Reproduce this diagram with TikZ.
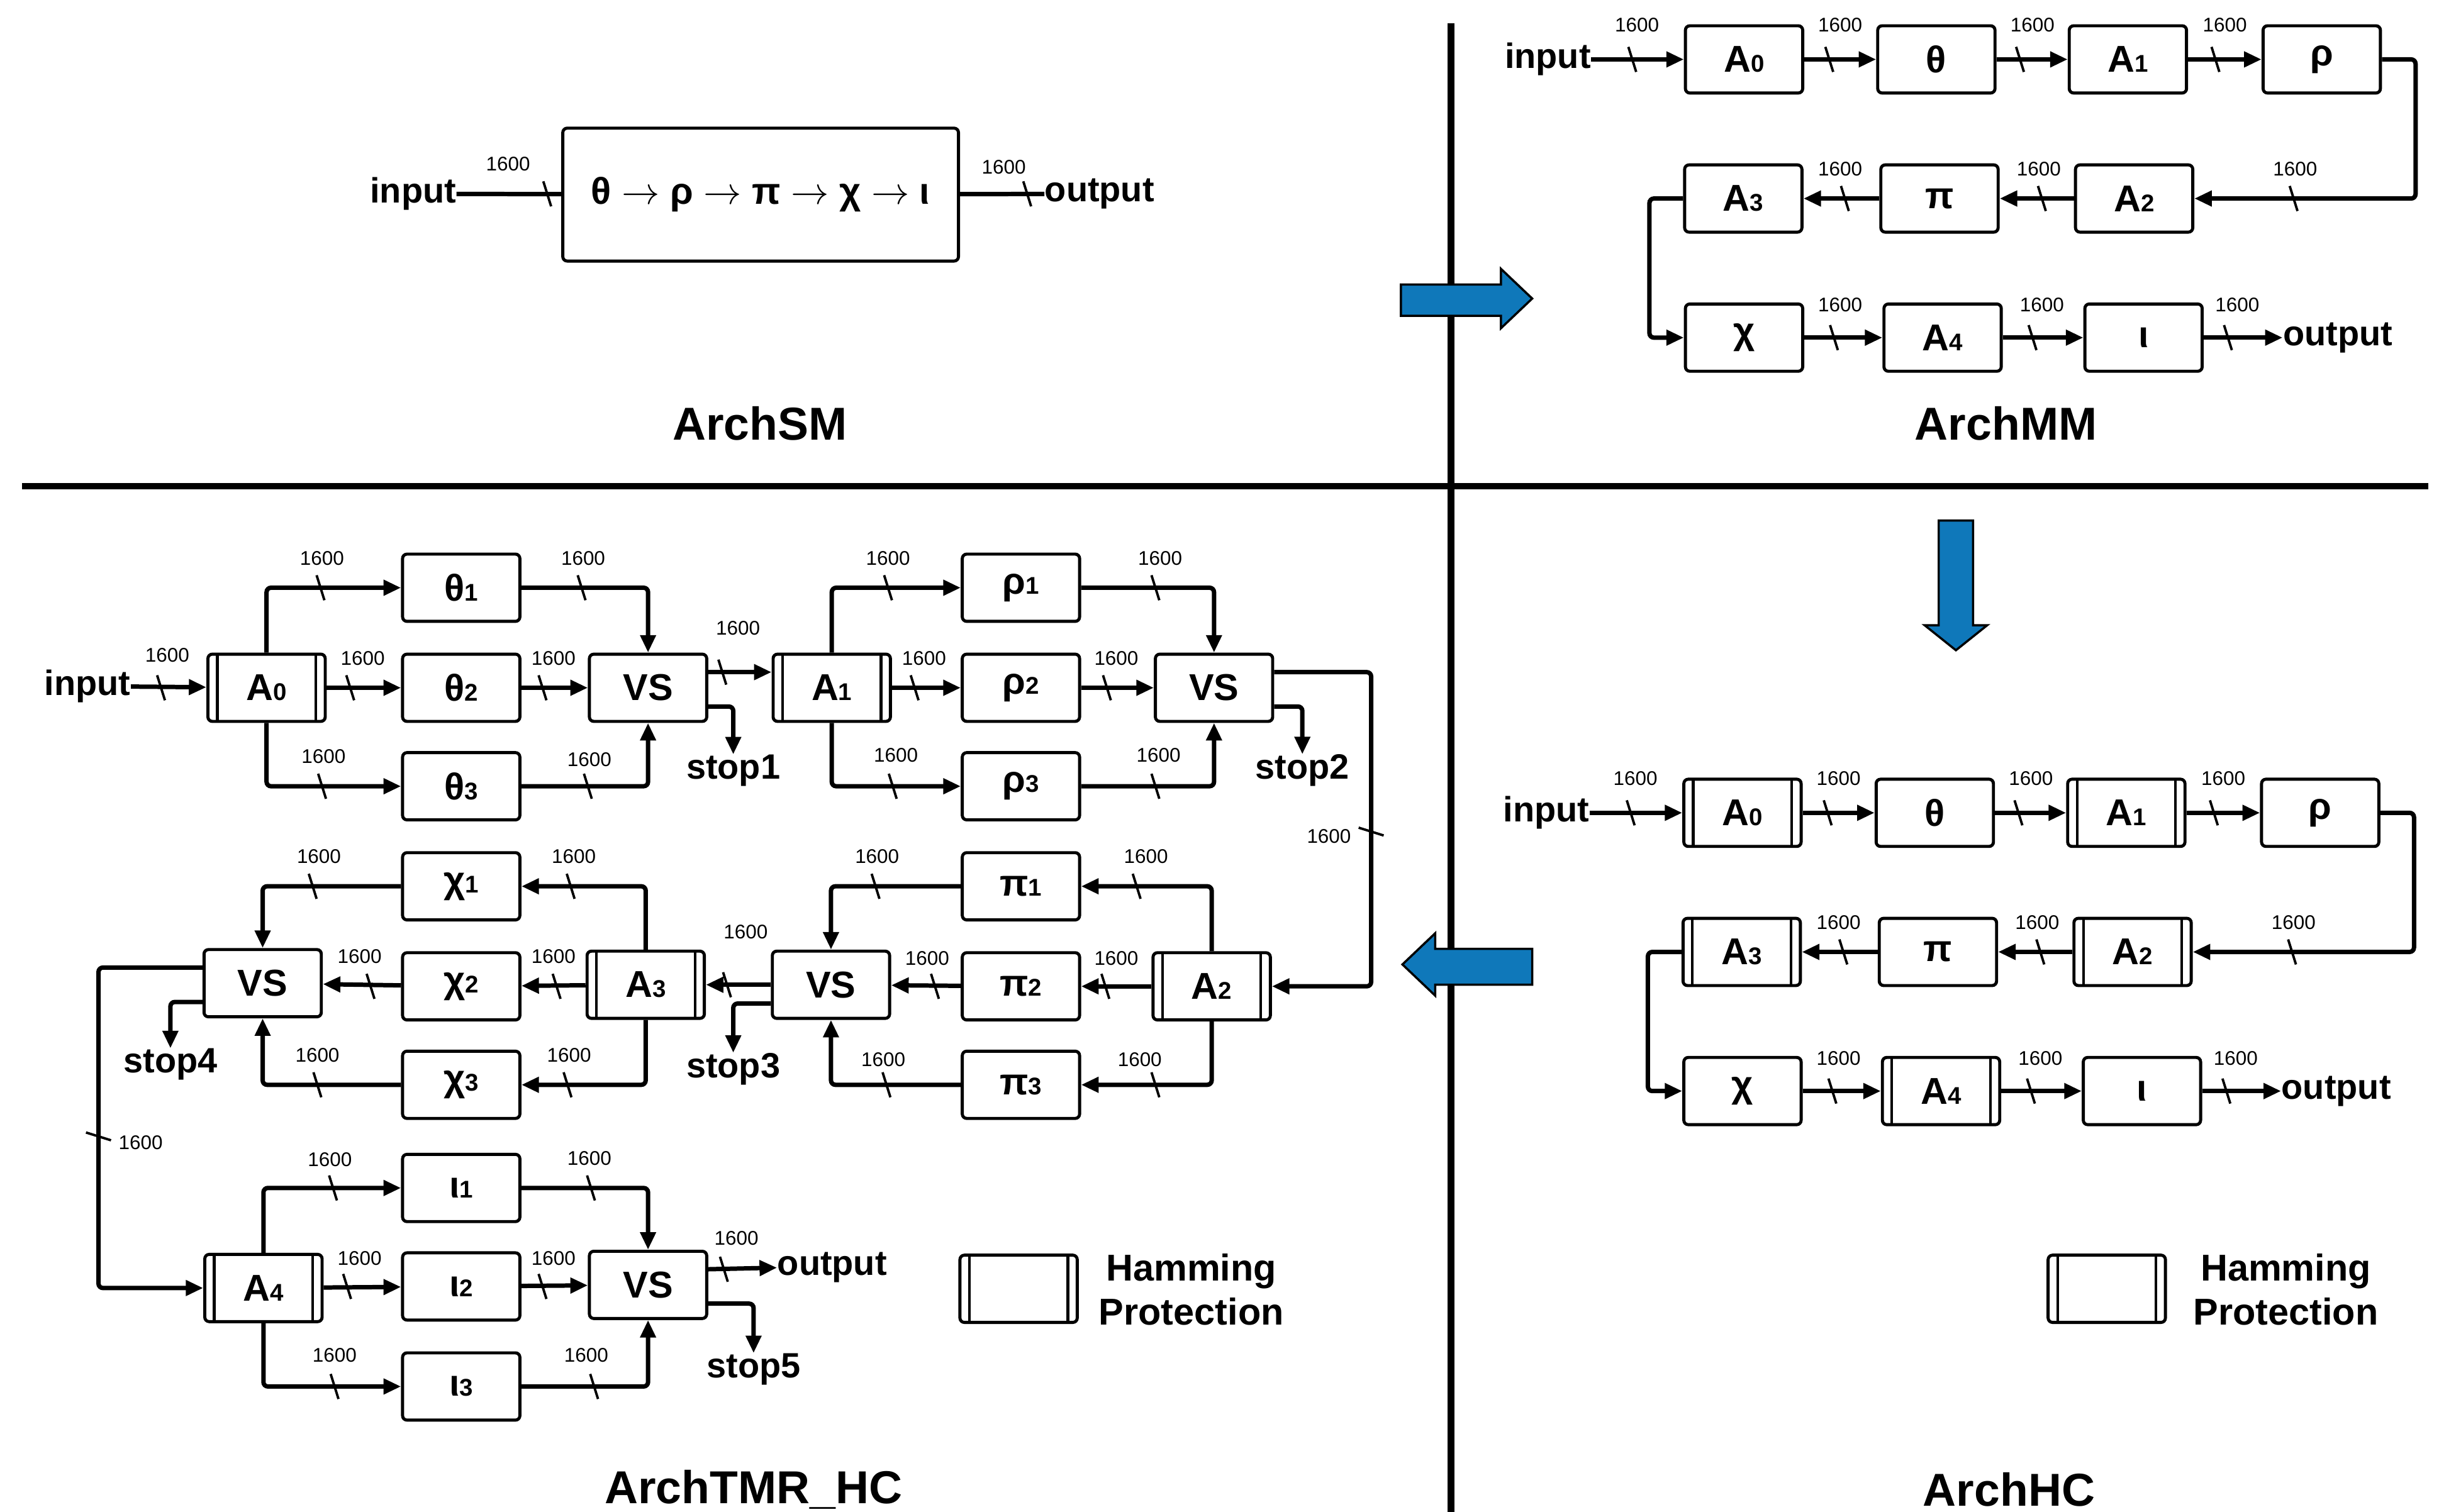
\documentclass[tikz,border=0pt]{standalone}
\usepackage{fontspec}
\setmainfont{Liberation Sans}
\usetikzlibrary{arrows.meta}
\definecolor{blu}{HTML}{0F78BA}
\newcommand\sbs[1]{{\fontsize{11}{11}\selectfont #1}}
\newcommand\tk[1]{\draw[line width=1.1pt] (#1) ++(-2.5,-8) -- ++(5,16);}
\newcommand\tkv[1]{\draw[line width=1.1pt] (#1) ++(-8,-2.5) -- ++(16,5);}
\newcommand\lb[1]{\node[num] at (#1) {1600};}
\begin{document}
\begin{tikzpicture}[x=0.025cm,y=-0.025cm,
  box/.style={draw,line width=1.4pt,rounded corners=2pt,minimum width=1.875cm,minimum height=1.075cm,inner sep=0pt,font=\fontsize{17}{17}\selectfont\bfseries},
  ham/.style={box,path picture={\draw[line width=1.2pt] ([xshift=0.15cm]path picture bounding box.north west) -- ([xshift=0.15cm]path picture bounding box.south west) ([xshift=-0.15cm]path picture bounding box.north east) -- ([xshift=-0.15cm]path picture bounding box.south east);}},
  txt/.style={inner sep=0pt,font=\fontsize{16}{16}\selectfont\bfseries},
  ttl/.style={inner sep=0pt,font=\fontsize{21}{21}\selectfont\bfseries},
  num/.style={inner sep=0pt,font=\fontsize{9}{9}\selectfont},
  conn/.style={line width=2pt,-{Triangle[length=0.28cm,width=0.24cm]},rounded corners=2pt},
  bar/.style={line width=3pt},
  barrow/.style={draw=black,line width=1pt,fill=blu}]
\useasboundingbox (0,0) rectangle (1560,967.3);
% dividers
\draw[bar] (928,15) -- (928,968);
\draw[bar] (14,311) -- (1553,311);
% blue arrows
\draw[barrow] (896,182) -- (960,182) -- (960,172) -- (980,191) -- (960,210) -- (960,202) -- (896,202) -- cycle;
\draw[barrow] (1240,333) -- (1262,333) -- (1262,400) -- (1271,400) -- (1251,416) -- (1231,400) -- (1240,400) -- cycle;
\draw[barrow] (980,607) -- (918,607) -- (918,597) -- (897,617) -- (918,637) -- (918,630) -- (980,630) -- cycle;

% ===== ArchSM =====
\node[box,minimum width=6.325cm,minimum height=2.125cm,font=\fontsize{17}{17}\selectfont\bfseries] (sm) at (486.5,124.5) {θ $\rightarrow$ ρ $\rightarrow$ π $\rightarrow$ χ $\rightarrow$ ι};
\node[txt,anchor=east] (smin) at (292,124) {input};
\node[txt,anchor=west] (smout) at (668,124) {output};
\draw[line width=2pt] (smin) -- (sm);
\draw[line width=2pt] (sm) -- (smout);
\tk{350,124}\lb{325,105}
\tk{657,124}\lb{642,107}
\node[ttl] at (486,271) {ArchSM};

% ===== chain macro for ArchMM / ArchHC =====
\newcommand\chain[2]{%
\node[#2] (#1a0) at (1115.5,38) {A\sbs0};
\node[box] (#1th) at (1238.5,38) {θ};
\node[#2] (#1a1) at (1361,38) {A\sbs1};
\node[box] (#1rh) at (1485,38) {ρ};
\node[#2] (#1a3) at (1115,127) {A\sbs3};
\node[box] (#1pi) at (1240.5,127) {π};
\node[#2] (#1a2) at (1365,127) {A\sbs2};
\node[box] (#1ch) at (1115.5,216) {χ};
\node[#2] (#1a4) at (1242.5,216) {A\sbs4};
\node[box] (#1io) at (1371,216) {ι};
\node[txt] (#1in) at (990,38) {input};
\node[txt,anchor=west] (#1out) at (1460,216) {output};
\draw[conn] (#1in) -- (#1a0);
\draw[conn] (#1a0) -- (#1th);
\draw[conn] (#1th) -- (#1a1);
\draw[conn] (#1a1) -- (#1rh);
\draw[conn] (#1rh.east) -- (1545,38) |- (#1a2.east);
\draw[conn] (#1a2) -- (#1pi);
\draw[conn] (#1pi) -- (#1a3);
\draw[conn] (#1a3.west) -- (1055,127) |- (#1ch.west);
\draw[conn] (#1ch) -- (#1a4);
\draw[conn] (#1a4) -- (#1io);
\draw[conn] (#1io) -- (#1out);
\tk{1044,38}\lb{1047,16}
\tk{1170,38}\lb{1177,16}
\tk{1292,38}\lb{1300,16}
\tk{1417,38}\lb{1423,16}
\tk{1467,127}\lb{1468,108}
\tk{1306,127}\lb{1304,108}
\tk{1180,127}\lb{1177,108}
\tk{1173,216}\lb{1177,195}
\tk{1300,216}\lb{1306,195}
\tk{1425,216}\lb{1431,195}
}
\chain{m}{box}
\node[ttl] at (1283,271) {ArchMM};
\begin{scope}[shift={(-1,482)}]
\chain{h}{ham}
\end{scope}
\node[ham] (hleg) at (1347.5,824.5) {};
\node[txt,align=center,font=\fontsize{17}{20}\selectfont\bfseries] at (1462,825) {Hamming\\Protection};
\node[ttl] at (1285,953) {ArchHC};

% ===== ArchTMR_HC =====
\node[ham] (a0) at (170.5,440) {A\sbs0};
\node[box] (t1) at (295,376) {θ\sbs1};
\node[box] (t2) at (295,440) {θ\sbs2};
\node[box] (t3) at (295,503) {θ\sbs3};
\node[box] (vs1) at (414.5,440) {VS};
\node[txt] (in3) at (56,439) {input};
\node[txt] (s1) at (469,493) {stop1};
\draw[conn] (in3) -- (a0);
\draw[conn] (a0.north) |- (t1.west);
\draw[conn] (a0) -- (t2);
\draw[conn] (a0.south) |- (t3.west);
\draw[conn] (t1.east) -| (vs1.north);
\draw[conn] (t2) -- (vs1);
\draw[conn] (t3.east) -| (vs1.south);
\tk{103,440}\lb{107,419}
\tk{205,376}\lb{206,357}
\tk{224,440}\lb{232,421}
\tk{206,503}\lb{207,484}
\tk{372,376}\lb{373,357}
\tk{347,440}\lb{354,421}
\tk{376,503}\lb{377,486}

\node[ham] (a1) at (532,440) {A\sbs1};
\node[box] (r1) at (653,376) {ρ\sbs1};
\node[box] (r2) at (653,440) {ρ\sbs2};
\node[box] (r3) at (653,503) {ρ\sbs3};
\node[box] (vs2) at (776.5,440) {VS};
\node[txt] (s2) at (833,493) {stop2};
\draw[conn] ([yshift=0.25cm]vs1.east) -- ([yshift=0.25cm]a1.west);
\draw[conn] ([yshift=-0.3cm]vs1.east) -| (s1.north);
\tk{462,430}\lb{472,402}
\draw[conn] (a1.north) |- (r1.west);
\draw[conn] (a1) -- (r2);
\draw[conn] (a1.south) |- (r3.west);
\draw[conn] (r1.east) -| (vs2.north);
\draw[conn] (r2) -- (vs2);
\draw[conn] (r3.east) -| (vs2.south);
\draw[conn] ([yshift=-0.3cm]vs2.east) -| (s2.north);
\tk{568,376}\lb{568,357}
\tk{585,440}\lb{591,421}
\tk{571,503}\lb{573,483}
\tk{739,376}\lb{742,357}
\tk{708,440}\lb{714,421}
\tk{739,503}\lb{741,483}

\node[ham] (a2) at (775,631) {A\sbs2};
\node[box] (p1) at (653,567) {π\sbs1};
\node[box] (p2) at (653,631) {π\sbs2};
\node[box] (p3) at (653,694) {π\sbs3};
\node[box] (vs3) at (531.5,630) {VS};
\node[txt] (s3) at (469,684) {stop3};
\draw[conn] ([yshift=0.25cm]vs2.east) -- (877,430) |- (a2.east);
\tkv{877,532}\lb{850,535}
\draw[conn] (a2.north) |- (p1.east);
\draw[conn] (a2) -- (p2);
\draw[conn] (a2.south) |- (p3.east);
\draw[conn] (p1.west) -| (vs3.north);
\draw[conn] (p2) -- (vs3);
\draw[conn] (p3.west) -| (vs3.south);
\draw[conn] ([yshift=-0.3cm]vs3.west) -| (s3.north);
\tk{727,567}\lb{733,548}
\tk{707,631}\lb{714,613}
\tk{739,694}\lb{729,678}
\tk{560,567}\lb{561,548}
\tk{598,631}\lb{593,613}
\tk{567,694}\lb{565,678}

\node[ham] (a3) at (413,630) {A\sbs3};
\node[box] (c1) at (295,567) {χ\sbs1};
\node[box] (c2) at (295,631) {χ\sbs2};
\node[box] (c3) at (295,694) {χ\sbs3};
\node[box] (vs4) at (168,629) {VS};
\node[txt] (s4) at (109,681) {stop4};
\draw[conn] (vs3) -- (a3);
\tk{465,630}\lb{477,596}
\draw[conn] (a3.north) |- (c1.east);
\draw[conn] (a3) -- (c2);
\draw[conn] (a3.south) |- (c3.east);
\draw[conn] (c1.west) -| (vs4.north);
\draw[conn] (c2) -- (vs4);
\draw[conn] (c3.west) -| (vs4.south);
\draw[conn] ([yshift=-0.3cm]vs4.west) -| (s4.north);
\tk{365,567}\lb{367,548}
\tk{356,631}\lb{354,612}
\tk{363,694}\lb{364,675}
\tk{200,567}\lb{204,548}
\tk{237,631}\lb{230,612}
\tk{203,694}\lb{203,675}

\node[ham] (a4) at (168.5,824) {A\sbs4};
\node[box] (i1) at (295,760) {ι\sbs1};
\node[box] (i2) at (295,823) {ι\sbs2};
\node[box] (i3) at (295,887) {ι\sbs3};
\node[box] (vs5) at (414.5,822) {VS};
\node[txt] (s5) at (482,876) {stop5};
\node[txt,anchor=west] (out3) at (497,811) {output};
\draw[conn] ([yshift=0.25cm]vs4.west) -- (63,619) |- (a4.west);
\tkv{63,727}\lb{90,731}
\draw[conn] (a4.north) |- (i1.west);
\draw[conn] (a4) -- (i2);
\draw[conn] (a4.south) |- (i3.west);
\draw[conn] (i1.east) -| (vs5.north);
\draw[conn] (i2) -- (vs5);
\draw[conn] (i3.east) -| (vs5.south);
\draw[conn] ([yshift=0.25cm]vs5.east) -- (out3.west);
\draw[conn] ([yshift=-0.3cm]vs5.east) -| (s5.north);
\tk{213,760}\lb{211,742}
\tk{222,823}\lb{230,805}
\tk{214,887}\lb{214,867}
\tk{378,760}\lb{377,741}
\tk{347,823}\lb{354,805}
\tk{380,887}\lb{375,867}
\tk{463,812}\lb{471,792}

\node[ham] (tleg) at (651.5,824.5) {};
\node[txt,align=center,font=\fontsize{17}{20}\selectfont\bfseries] at (762,825) {Hamming\\Protection};
\node[ttl] at (482,953) {ArchTMR\_HC};
\end{tikzpicture}
\end{document}
